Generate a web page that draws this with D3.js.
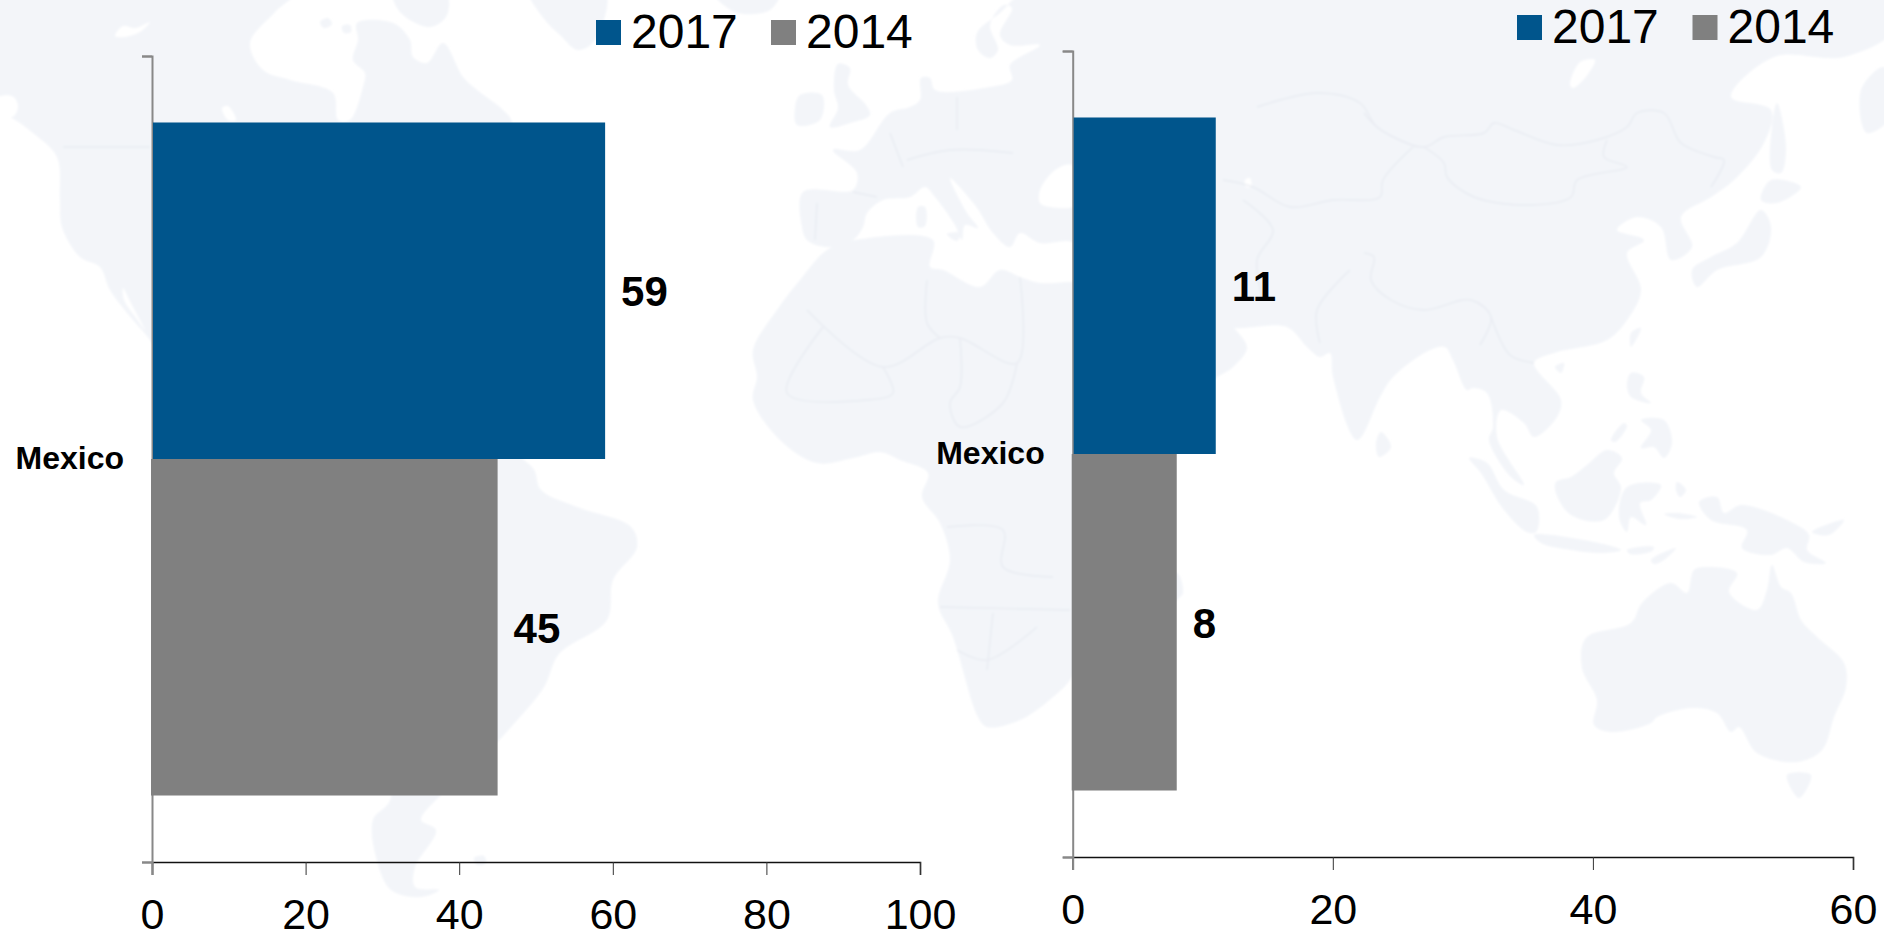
<!DOCTYPE html>
<head>
  <meta charset="utf-8">
  <script src="https://cdn.jsdelivr.net/npm/d3@7"></script>
  <style>
    body { margin: 0; background: #fff; }
    svg { display: block; font-family: "Liberation Sans", Arial, sans-serif; }
  </style>
</head>

<body>
  <svg width="1884" height="937"></svg>

  <script>
    // chart data
    const categories = ['Mexico'];
    const years = ['2017', '2014'];
    const yearColors = ['#00558c', '#808080'];
    const leftValues = [59, 45];
    const rightValues = [11, 8];
    const leftTicks = [0, 20, 40, 60, 80, 100];
    const rightTicks = [0, 20, 40, 60];

    // decorative backdrop, outlines
    const land = [
      // north america
      [[-10,-10],[297,-10],[275,12],[250,43],[263,70],[290,80],[333,93],[338,120],[350,120],[363,87],[365,73],[353,60],[358,40],[357,23],[393,23],[410,40],[413,57],[427,63],[443,43],[463,77],[477,90],[503,110],[512,123],[480,220],[300,400],[200,420],[150,340],[133,320],[110,290],[100,267],[80,257],[62,227],[60,200],[57,157],[33,133],[10,117],[-10,110]],
      [[393,-10],[400,12],[430,27],[447,15],[445,-10]],
      [[320,22],[328,18],[332,24],[324,28]],
      [[342,26],[350,25],[351,32],[344,33]],
      // greenland, iceland
      [[529,-10],[545,20],[560,35],[578,50],[595,40],[605,-10]],
      [[712,-10],[735,12],[770,10],[780,-10]],
      // south america
      [[470,440],[532,467],[541,490],[577,507],[631,527],[637,547],[613,580],[607,620],[559,654],[544,687],[511,727],[470,770],[439,797],[421,820],[436,830],[415,867],[415,887],[439,890],[421,897],[391,890],[376,857],[373,820],[391,797],[330,600]],
      [[474,858],[484,856],[486,863],[477,865]],
      // britain, ireland
      [[838,64],[850,68],[848,85],[866,105],[870,115],[850,123],[830,127],[838,108],[834,90]],
      [[800,95],[822,95],[820,120],[797,125],[795,108]],
      // eurasia
      [[833,150],[860,150],[890,113],[910,107],[920,100],[921,78],[930,78],[935,90],[990,87],[1012,80],[1010,65],[1040,45],[1010,45],[1000,35],[1012,8],[1004,5],[990,25],[998,50],[990,58],[978,50],[977,33],[1000,13],[1030,-10],[1894,-10],[1894,30],[1844,57],[1774,57],[1731,97],[1771,110],[1764,143],[1734,180],[1711,197],[1681,217],[1692,247],[1671,260],[1661,227],[1637,217],[1617,230],[1644,240],[1627,253],[1641,290],[1627,320],[1607,340],[1554,353],[1534,363],[1561,400],[1557,417],[1534,437],[1524,423],[1501,410],[1497,437],[1524,485],[1511,477],[1489,440],[1493,427],[1487,393],[1473,388],[1467,390],[1453,360],[1445,347],[1430,350],[1393,377],[1380,397],[1357,440],[1333,377],[1330,353],[1320,357],[1307,347],[1287,327],[1230,327],[1222,317],[1247,347],[1233,367],[1217,377],[1180,400],[1120,300],[1075,243],[1040,243],[1020,233],[1010,247],[993,233],[975,205],[950,178],[967,213],[978,228],[965,225],[962,240],[955,225],[935,197],[925,187],[910,197],[883,200],[867,213],[863,227],[853,240],[827,247],[807,240],[802,227],[803,192],[853,190],[857,173]],
      [[1884,67],[1861,90],[1867,133],[1894,113]],
      // africa
      [[827,250],[855,240],[933,240],[930,267],[943,270],[980,287],[1000,270],[1020,277],[1040,283],[1072,282],[1110,285],[1180,400],[1150,450],[1100,600],[1072,677],[1053,697],[1020,720],[987,727],[978,717],[953,637],[938,603],[950,560],[940,523],[922,497],[928,473],[900,460],[880,452],[853,458],[817,463],[780,440],[753,400],[757,377],[753,350],[777,310],[800,280]],
      [[1177,573],[1183,593],[1177,600],[1150,640],[1160,590]],
      // mediterranean islands
      [[947,234],[960,233],[957,241]],
      [[918,207],[925,207],[925,226],[918,227]],
      // east asia islands
      [[1692,270],[1697,287],[1717,270],[1761,257],[1771,227],[1761,210],[1737,243],[1711,257]],
      [[1761,200],[1771,180],[1801,187],[1777,203]],
      [[1777,103],[1786,147],[1781,173],[1772,170],[1772,127]],
      [[1641,328],[1631,347],[1631,333]],
      [[1564,363],[1561,373],[1555,367]],
      [[1381,432],[1391,447],[1379,457],[1376,443]],
      [[1631,373],[1644,377],[1641,393],[1651,403],[1631,397],[1627,385]],
      [[1641,420],[1664,420],[1672,443],[1664,458],[1654,447],[1641,448],[1651,430]],
      [[1624,423],[1627,426],[1615,442],[1611,440]],
      // indonesia, new guinea
      [[1607,450],[1622,458],[1614,473],[1621,488],[1604,520],[1571,515],[1556,493],[1556,482],[1571,477],[1587,465]],
      [[1469,458],[1487,463],[1504,490],[1537,507],[1536,532],[1527,532],[1504,510],[1481,473]],
      [[1534,535],[1584,540],[1621,550],[1604,553],[1571,550],[1541,543]],
      [[1627,550],[1654,547],[1652,551],[1630,554]],
      [[1651,560],[1676,548],[1664,560],[1654,564]],
      [[1627,487],[1661,485],[1651,500],[1640,503],[1646,525],[1631,517],[1627,532],[1619,517]],
      [[1699,502],[1717,497],[1724,513],[1741,505],[1787,520],[1809,535],[1807,550],[1826,563],[1804,562],[1787,548],[1771,555],[1742,548],[1747,530],[1711,520]],
      [[1677,482],[1686,490],[1680,497],[1676,490]],
      [[1812,532],[1844,520],[1829,535]],
      [[1664,514],[1678,513],[1697,517],[1680,519]],
      // australia, tasmania
      [[1586,638],[1631,623],[1642,603],[1671,583],[1687,593],[1694,570],[1707,567],[1737,573],[1729,592],[1757,610],[1767,590],[1772,565],[1781,587],[1791,593],[1801,620],[1817,637],[1844,663],[1846,687],[1834,717],[1822,750],[1797,762],[1757,753],[1739,727],[1731,732],[1717,713],[1692,708],[1657,717],[1651,723],[1611,732],[1594,725],[1597,700],[1582,668]],
      [[1787,775],[1811,775],[1799,798]]
    ];
    const water = [
      [[115,36],[123,26],[135,28],[150,22],[140,32],[125,37]],
      [[222,108],[228,106],[236,120],[228,120]],
      [[-10,100],[12,96],[18,105],[15,115],[8,118],[-10,108]],
      [[123,288],[132,305],[145,330],[136,318],[124,300]],
      [[1040,190],[1055,170],[1072,165],[1076,205],[1050,207],[1040,203]],
      [[1245,180],[1250,178],[1251,187],[1246,187]],
      [[1580,62],[1595,60],[1585,78],[1573,88],[1570,85]]
    ];
    const borders = [
      [[63,147],[150,147]],
      [[1364,113],[1381,130],[1424,147],[1444,137],[1484,133],[1494,123],[1514,130],[1557,145],[1597,140],[1627,127],[1637,113],[1664,113],[1681,143],[1714,157],[1724,160],[1711,187]],
      [[1424,147],[1444,163],[1447,177],[1474,197],[1531,205],[1571,197],[1577,180],[1627,167],[1604,157],[1607,140]],
      [[1364,253],[1374,257],[1371,280],[1391,300],[1424,310],[1471,300],[1491,317],[1480,345]],
      [[1223,180],[1253,187],[1290,207],[1333,200],[1380,197],[1383,180],[1413,147]],
      [[1257,107],[1317,93],[1360,103],[1377,127],[1417,147]],
      [[1243,200],[1273,230],[1257,260],[1263,300]],
      [[1350,270],[1317,310],[1320,343]],
      [[1491,317],[1510,355],[1534,363]],
      [[807,310],[883,367],[940,338],[960,338],[1017,363],[1020,277]],
      [[927,280],[927,323],[940,338]],
      [[883,367],[893,393],[867,400],[787,393],[823,327]],
      [[960,338],[960,387],[950,403],[960,427],[1003,403],[1017,363]],
      [[940,607],[1070,610]],
      [[947,527],[1003,530],[1003,567],[1053,577]],
      [[993,613],[987,670]],
      [[957,650],[987,660],[1037,627]],
      [[890,133],[903,167]],
      [[957,97],[957,130]],
      [[907,160],[950,150],[1013,153]],
      [[853,192],[877,197]],
      [[817,203],[815,240]]
    ];

    const svg = d3.select('svg');

    // the map in the reference is a soft image, so blur it a little
    svg.append('defs').append('filter')
      .attr('id', 'soft')
      .append('feGaussianBlur')
      .attr('stdDeviation', 1);

    const outline = d3.line().curve(d3.curveCatmullRomClosed.alpha(0.5));
    const trace = d3.line().curve(d3.curveCatmullRom.alpha(0.5));

    const map = svg.append('g').attr('filter', 'url(#soft)');
    map.selectAll('path.land').data(land).enter().append('path')
      .attr('class', 'land')
      .attr('d', outline)
      .attr('fill', '#f3f5f9');
    map.selectAll('path.water').data(water).enter().append('path')
      .attr('class', 'water')
      .attr('d', outline)
      .attr('fill', '#fff');
    map.selectAll('path.border').data(borders).enter().append('path')
      .attr('class', 'border')
      .attr('d', trace)
      .attr('fill', 'none')
      .attr('stroke', '#e9ecf2')
      .attr('stroke-width', 1.4);

    function drawPanel(opts) {
      const x = d3.scaleLinear()
        .domain([0, d3.max(opts.ticks)])
        .range([opts.left, opts.right]);
      const yCat = d3.scaleBand()
        .domain(categories)
        .range([opts.top, opts.bottom])
        .paddingOuter(0.0988);
      const ySeries = d3.scaleBand()
        .domain(years)
        .range([0, yCat.bandwidth()]);
      const yFrame = d3.scaleLinear()
        .domain([0, 1])
        .range([opts.bottom, opts.top]);

      const g = svg.append('g');

      // x axis
      const xAxis = g.append('g')
        .attr('transform', `translate(0,${opts.bottom})`)
        .call(d3.axisBottom(x).tickValues(opts.ticks).tickSize(13).tickPadding(23));
      xAxis.select('.domain').attr('stroke', '#111').attr('stroke-width', 1.6);
      xAxis.selectAll('.tick line').attr('stroke', d => d === 0 ? '#888' : '#333').attr('stroke-width', d => d === 0 ? 2 : 1);
      xAxis.selectAll('text')
        .attr('font-size', 43)
        .attr('font-family', '"Liberation Sans", Arial, sans-serif')
        .attr('fill', '#000');

      // y axis frame, only the end ticks
      const yAxis = g.append('g')
        .attr('transform', `translate(${opts.left},0)`)
        .call(d3.axisLeft(yFrame).tickValues([0, 1]).tickSize(10).tickFormat(''));
      yAxis.select('.domain').attr('stroke', '#888').attr('stroke-width', 2);
      yAxis.selectAll('.tick line').attr('stroke', '#888').attr('stroke-width', 2);

      // category label
      const catAxis = g.append('g')
        .attr('transform', `translate(${opts.left},0)`)
        .call(d3.axisLeft(yCat).tickSize(0).tickPadding(28));
      catAxis.select('.domain').remove();
      catAxis.selectAll('text')
        .attr('font-size', 32)
        .attr('font-weight', 700)
        .attr('font-family', '"Liberation Sans", Arial, sans-serif')
        .attr('fill', '#000');

      // bars, the grey one sits over the axis line, the blue one just right of it
      const rows = years.map((year, i) => ({ year, value: opts.values[i], color: yearColors[i], shift: i === 0 ? 1 : -1 }));
      const bandTop = yCat(categories[0]);

      g.selectAll('rect.bar').data(rows).enter().append('rect')
        .attr('class', 'bar')
        .attr('x', d => x(0) + d.shift)
        .attr('y', d => bandTop + ySeries(d.year))
        .attr('width', d => x(d.value) - x(0) - d.shift)
        .attr('height', ySeries.bandwidth())
        .attr('fill', d => d.color);

      g.selectAll('text.value').data(rows).enter().append('text')
        .attr('class', 'value')
        .attr('x', d => x(d.value) + 16)
        .attr('y', d => bandTop + ySeries(d.year) + ySeries.bandwidth() / 2 + 15.5)
        .attr('font-size', 42)
        .attr('font-weight', 700)
        .text(d => d.value);

      // legend
      const legend = g.selectAll('g.legend').data(rows).enter().append('g')
        .attr('class', 'legend')
        .attr('transform', (d, i) => `translate(${opts.legendX[i]},${opts.legendY})`);
      legend.append('rect')
        .attr('width', 25)
        .attr('height', 25)
        .attr('fill', d => d.color);
      legend.append('text')
        .attr('x', 35)
        .attr('y', 28)
        .attr('font-size', 48)
        .text(d => d.year);
    }

    drawPanel({
      values: leftValues, ticks: leftTicks,
      left: 152, right: 920, top: 56, bottom: 862,
      legendX: [596, 771], legendY: 20
    });
    drawPanel({
      values: rightValues, ticks: rightTicks,
      left: 1072.7, right: 1853, top: 51, bottom: 857,
      legendX: [1517, 1692.5], legendY: 15
    });
  </script>
</body>
